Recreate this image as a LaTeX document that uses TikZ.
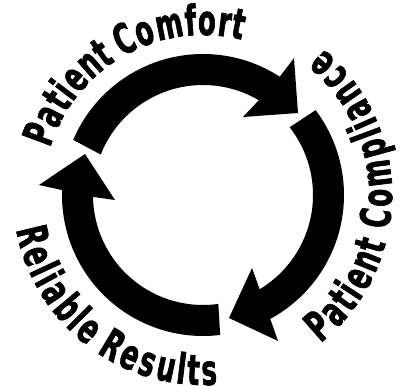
\documentclass[tikz,border=0pt]{standalone}
\usepackage{fontspec}
\newfontfamily\impactface[FakeStretch=0.62,FakeBold=1.5]{DejaVu Sans Bold}
\tikzset{
  loopshape/.style={fill=black,draw=none},
  ringletter/.style={inner sep=0pt,outer sep=0pt,anchor=base,font=\impactface\fontsize{42}{42}\selectfont}
}
\begin{document}
\begin{tikzpicture}[x=1pt,y=1pt]
\useasboundingbox (0,0) rectangle (400,386);
\begin{scope}[shift={(203,191)}]
\fill[loopshape] (157:141pt) arc[start angle=157,end angle=57,radius=141pt] -- (91,137) -- (95,82) -- (40,78) -- (59.5:110pt) arc[start angle=59.5,end angle=158.4,radius=110pt] -- cycle;
\fill[loopshape] (37:141pt) arc[start angle=37,end angle=-61.5,radius=141pt] -- (75,-146) -- (26,-123) -- (49,-73) -- (-59:110pt) arc[start angle=-59,end angle=38,radius=110pt] -- cycle;
\fill[loopshape] (277:141pt) arc[start angle=277,end angle=178,radius=141pt] -- (-164,10) -- (-118,41) -- (-88,-5) -- (181:110pt) arc[start angle=181,end angle=278,radius=110pt] -- cycle;
\foreach \ch/\ang [count=\i] in {P/159.5,a/152.8,t/147,i/143,e/137.8,n/131,t/125.4,C/116.9,o/109.9,m/101.3,f/94.1,o/88.7,r/82.8,t/78.2}
  \node[ringletter,rotate=\ang-90] (comfort\i) at (\ang:160pt) {\ch};
\foreach \ch/\ang [count=\i] in {P/-48.7,a/-42.2,t/-36.9,i/-33.1,e/-28.2,n/-21.9,t/-16.6,C/-7.6,o/-0.9,m/7.1,p/15.3,l/20.3,i/23.8,a/28.7,n/35.1,c/41.5,e/47.8}
  \node[ringletter,rotate=\ang+90] (compliance\i) at (\ang:189pt) {\ch};
\foreach \ch/\ang [count=\i] in {R/193.5,e/200.1,l/205,i/208.5,a/213.4,b/219.9,l/224.9,e/229.8,R/239,e/245.6,s/251.7,u/258,l/263,t/266.9,s/272}
  \node[ringletter,rotate=\ang+90] (results\i) at (\ang:190pt) {\ch};
\end{scope}
\end{tikzpicture}
\end{document}
